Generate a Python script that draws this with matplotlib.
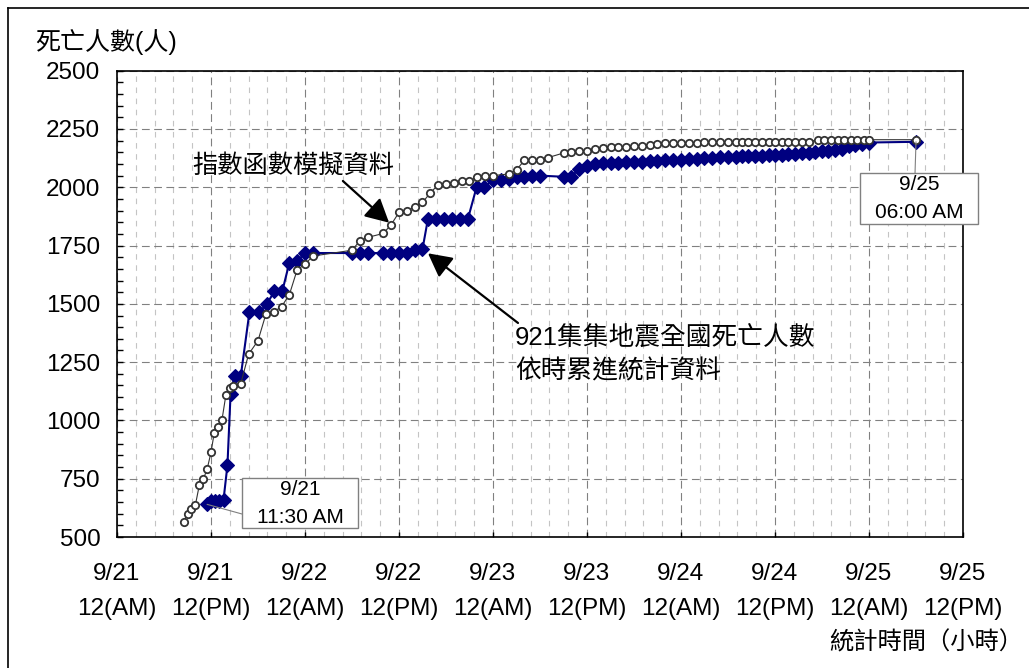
import matplotlib
matplotlib.use("Agg")
import matplotlib.pyplot as plt
from matplotlib.lines import Line2D
from matplotlib.patches import Rectangle

plt.rcParams['font.family'] = ['Liberation Sans', 'Noto Sans CJK TC', 'DejaVu Sans']

# --- data: hours elapsed since 9/21 00:00 ---
# cumulative reported deaths (921 Chi-Chi earthquake)
act_hours = [11.5, 12.0, 12.5, 13.0, 13.6, 14.1, 14.5, 15.0, 15.8, 16.9,
             18.1, 19.1, 20.1, 21.1, 22.0, 23.0, 24.0, 25.0, 30.0, 31.0,
             32.0, 34.0, 35.0, 36.0, 37.0, 38.0, 39.0, 39.7, 40.7, 41.7,
             42.8, 43.8, 44.8, 45.9, 46.9, 48.0, 49.0, 50.0, 51.0, 52.0,
             53.0, 54.0, 57.0, 58.0, 59.0, 60.0, 61.0, 62.0, 63.0, 64.0,
             65.0, 66.0, 67.0, 68.0, 69.0, 70.0, 71.0, 72.0, 73.0, 74.0,
             75.0, 76.0, 77.0, 78.0, 79.0, 79.8, 80.6, 81.5, 82.3, 83.2,
             84.0, 84.9, 85.7, 86.6, 87.4, 88.3, 89.1, 90.0, 90.8, 91.7,
             92.5, 93.4, 94.2, 95.1, 96.0, 102.0]
act_deaths = [640, 655, 655, 655, 660, 808, 1115, 1190, 1190, 1463,
              1463, 1498, 1554, 1554, 1676, 1683, 1718, 1718, 1718, 1718,
              1718, 1718, 1718, 1718, 1718, 1730, 1735, 1865, 1865, 1865,
              1865, 1865, 1865, 2000, 2000, 2032, 2032, 2035, 2045, 2045,
              2050, 2050, 2045, 2045, 2080, 2090, 2100, 2105, 2105, 2105,
              2107, 2108, 2110, 2112, 2113, 2115, 2117, 2118, 2120, 2122,
              2125, 2127, 2128, 2130, 2130, 2132, 2133, 2135, 2136, 2137,
              2138, 2140, 2141, 2143, 2145, 2148, 2150, 2155, 2157, 2160,
              2165, 2176, 2182, 2186, 2192, 2195]

# exponential-function model
mod_hours = [8.5, 9.0, 9.5, 10.0, 10.5, 11.0, 11.5, 12.0, 12.4, 12.9,
             13.4, 13.9, 14.4, 14.85, 15.8, 16.8, 18.0, 19.0, 20.0, 21.0,
             22.0, 23.0, 24.0, 25.0, 30.0, 31.0, 32.0, 34.0, 35.0, 36.0,
             37.0, 38.0, 39.0, 40.0, 41.0, 42.0, 43.0, 44.0, 45.0, 46.0,
             47.0, 48.0, 50.0, 51.0, 52.0, 53.0, 54.0, 55.0, 57.0, 58.0,
             59.0, 60.0, 61.0, 62.0, 63.0, 64.0, 65.0, 66.0, 67.0, 68.0,
             69.0, 70.0, 71.0, 72.0, 73.0, 74.0, 75.0, 76.0, 77.0, 78.0,
             79.0, 79.8, 80.6, 81.5, 82.3, 83.2, 84.0, 84.9, 85.7, 86.6,
             87.4, 88.3, 89.5, 90.3, 91.1, 92.0, 92.8, 93.7, 94.5, 95.3,
             96.0, 102.0]
mod_deaths = [566, 598, 621, 636, 721, 747, 790, 863, 944, 970,
              1002, 1109, 1137, 1147, 1158, 1284, 1342, 1455, 1465, 1488,
              1539, 1646, 1670, 1705, 1730, 1770, 1785, 1802, 1840, 1892,
              1900, 1914, 1935, 1976, 2011, 2016, 2020, 2026, 2026, 2045,
              2050, 2050, 2057, 2075, 2115, 2115, 2115, 2127, 2147, 2150,
              2154, 2154, 2164, 2169, 2171, 2174, 2174, 2176, 2179, 2183,
              2186, 2189, 2189, 2189, 2189, 2189, 2196, 2196, 2196, 2196,
              2196, 2196, 2196, 2196, 2196, 2196, 2196, 2196, 2196, 2196,
              2196, 2196, 2204, 2204, 2204, 2204, 2204, 2204, 2204, 2204,
              2204, 2204]

x_tick_hours = [0, 12, 24, 36, 48, 60, 72, 84, 96, 108]
x_tick_labels = ["9/21\n12(AM)", "9/21\n12(PM)", "9/22\n12(AM)", "9/22\n12(PM)",
                 "9/23\n12(AM)", "9/23\n12(PM)", "9/24\n12(AM)", "9/24\n12(PM)",
                 "9/25\n12(AM)", "9/25\n12(PM)"]
y_ticks = [500, 750, 1000, 1250, 1500, 1750, 2000, 2250, 2500]

W, H = 1029, 668
fig = plt.figure(figsize=(W / 100, H / 100), dpi=100)
ax = fig.add_axes([117 / W, 1 - 537 / H, (963 - 117) / W, (537 - 70.7) / H])

# grid
ax.set_xlim(0, 108)
ax.set_ylim(500, 2500)
ax.set_xticks(x_tick_hours)
ax.set_xticklabels(x_tick_labels, fontsize=17.5, linespacing=1.75)
ax.set_xticks([i * 2.4 for i in range(46)], minor=True)
ax.set_yticks(y_ticks)
ax.set_yticklabels([str(v) for v in y_ticks], fontsize=17.5)
ax.set_yticks(list(range(500, 2501, 50)), minor=True)

ax.grid(which='major', axis='y', color='#808080', lw=0.8, ls=(0, (7, 4)))
ax.grid(which='major', axis='x', color='#808080', lw=0.8, ls=(0, (7, 4)))
ax.grid(which='minor', axis='x', color='#c4c4c4', lw=0.8, ls=(0, (5, 5)))
ax.set_axisbelow(True)

ax.tick_params(axis='y', which='both', direction='in', length=4.5, width=1, pad=12)
ax.tick_params(axis='x', which='major', direction='in', length=3.5, width=1, pad=19)
ax.tick_params(axis='x', which='minor', length=0)
for sp in ax.spines.values():
    sp.set_linewidth(1.2)
    sp.set_color('black')

# series
ax.plot(act_hours, act_deaths, color='#000080', lw=1.5, marker='D',
        markersize=6.8, markerfacecolor='#000080', markeredgecolor='#000080',
        markeredgewidth=0.8, zorder=3)
ax.plot(mod_hours, mod_deaths, color='#333333', lw=0.8, marker='o',
        markersize=5.3, markerfacecolor='white', markeredgecolor='#333333',
        markeredgewidth=1.3, zorder=4)

# callouts
cjk = ['Liberation Sans', 'Noto Sans CJK TC']
ax.text(0.208, 0.7956, "指數函數模擬資料", transform=ax.transAxes,
        ha='center', va='center', fontsize=18.2, family=cjk)
i35 = mod_hours.index(35.0)
ax.annotate("", xy=(mod_hours[i35], mod_deaths[i35]),
            xytext=(0.267, 0.7635), textcoords='axes fraction',
            arrowprops=dict(arrowstyle='-|>,head_length=0.8,head_width=0.42',
                            color='black', lw=1.6, mutation_scale=18,
                            shrinkA=0, shrinkB=2), zorder=6)

ax.text(0.4704, 0.3903, "921集集地震全國死亡人數\n依時累進統計資料",
        transform=ax.transAxes, ha='left', va='center', fontsize=18.5,
        family=cjk, linespacing=1.4)
i39 = act_hours.index(39.0)
ax.annotate("", xy=(act_hours[i39], act_deaths[i39]),
            xytext=(0.474, 0.459), textcoords='axes fraction',
            arrowprops=dict(arrowstyle='-|>,head_length=0.8,head_width=0.42',
                            color='black', lw=1.6, mutation_scale=18,
                            shrinkA=0, shrinkB=5), zorder=6)

# data-point labels with boxes
def label_box(x0, y0, x1, y1, text):
    ax.add_patch(Rectangle((x0, y0), x1 - x0, y1 - y0, transform=ax.transAxes,
                           facecolor='white', edgecolor='#808080', lw=1,
                           zorder=7, clip_on=False))
    ax.text((x0 + x1) / 2, (y0 + y1) / 2, text, transform=ax.transAxes,
            ha='center', va='center', fontsize=15, linespacing=1.6,
            zorder=8, clip_on=False)

ax.annotate("", xy=(act_hours[0], act_deaths[0]), xytext=(0.1478, 0.0493),
            textcoords='axes fraction',
            arrowprops=dict(arrowstyle='-', color='#808080', lw=0.8,
                            shrinkA=0, shrinkB=0), zorder=6)
label_box(0.1478, 0.0193, 0.2849, 0.1265, "9/21\n11:30 AM")

ax.annotate("", xy=(act_hours[-1], act_deaths[-1]), xytext=(0.9433, 0.7806),
            textcoords='axes fraction',
            arrowprops=dict(arrowstyle='-', color='#808080', lw=0.8,
                            shrinkA=0, shrinkB=0), zorder=6)
label_box(0.8783, 0.6712, 1.0177, 0.7806, "9/25\n06:00 AM")

# axis titles
fig.text(35 / W, 1 - 42 / H, "死亡人數(人)", ha='left', va='center',
         fontsize=18, family=cjk)
fig.text(829 / W, 1 - 643 / H, "統計時間（小時）", ha='left', va='center',
         fontsize=17.5, family=cjk)

# outer frame
fig.add_artist(Line2D([7.5 / W, 7.5 / W], [0, 1 - 7.5 / H], color='black', lw=1.2))
fig.add_artist(Line2D([7.5 / W, 1], [1 - 7.5 / H, 1 - 7.5 / H], color='black', lw=1.2))

fig.savefig("out.png", dpi=100)
